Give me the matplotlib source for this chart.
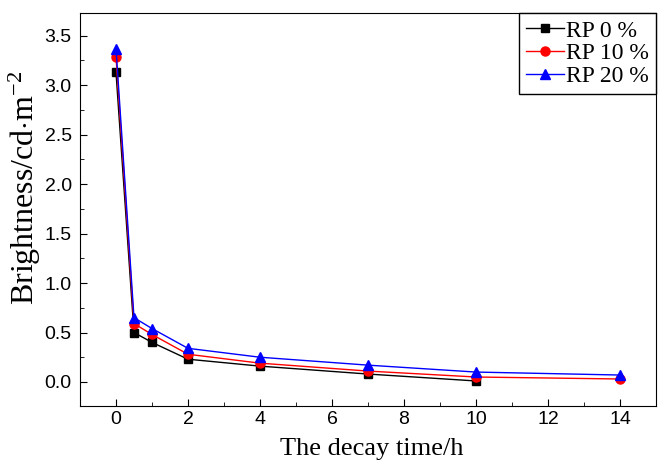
import matplotlib
matplotlib.use("Agg")
import matplotlib.pyplot as plt
from matplotlib.ticker import MultipleLocator

# decay time (h) and brightness (cd/m^2)
time_all = [0, 0.5, 1, 2, 4, 7, 10, 14]
rp0 = [3.13, 0.50, 0.40, 0.23, 0.16, 0.08, 0.01]
rp10 = [3.29, 0.59, 0.48, 0.28, 0.19, 0.11, 0.05, 0.03]
rp20 = [3.37, 0.65, 0.54, 0.34, 0.25, 0.17, 0.10, 0.07]

plt.rcParams['mathtext.fontset'] = 'custom'
plt.rcParams['mathtext.rm'] = 'Liberation Serif'
plt.rcParams['mathtext.it'] = 'Liberation Serif:italic'

W, H = 660, 461
fig = plt.figure(figsize=(W / 100, H / 100), dpi=100)
ax = fig.add_axes([80 / W, 1 - 405.7 / H, 576 / W, 392.7 / H])

ax.plot(time_all[:len(rp0)], rp0, color='black', marker='s', ms=5.5, lw=1, label='RP 0 %')
ax.plot(time_all, rp10, color='red', marker='o', ms=6.5, lw=1, label='RP 10 %')
ax.plot(time_all, rp20, color='blue', marker='^', ms=7, lw=1, label='RP 20 %')

ax.set_xlim(-1, 15)
ax.set_ylim(-0.24, 3.73)
ax.xaxis.set_major_locator(MultipleLocator(2))
ax.xaxis.set_minor_locator(MultipleLocator(1))
ax.yaxis.set_major_locator(MultipleLocator(0.5))
ax.yaxis.set_minor_locator(MultipleLocator(0.25))
ax.tick_params(which='both', direction='in', top=False, right=False)
ax.tick_params(which='major', length=5, labelsize=14)
ax.tick_params(which='minor', length=3)
ax.tick_params(axis='y', pad=6)
ax.tick_params(axis='x', pad=4)
for lab in ax.get_xticklabels() + ax.get_yticklabels():
    lab.set_family('Liberation Sans')

fig.text(372 / W, 1 - 455 / H, 'The decay time/h', family='Liberation Serif',
         fontsize=19, ha='center', va='baseline')
fig.text(25 / W, 1 - 188 / H, 'Brightness/cd$\\cdot$m$^{-2}$', family='Liberation Serif',
         fontsize=23, ha='center', va='center', rotation=90)

leg = ax.legend(loc='upper right', bbox_to_anchor=(1.0, 1.0), borderaxespad=0,
                prop={'family': 'Liberation Serif', 'size': 17}, fancybox=False,
                edgecolor='black', framealpha=1, handlelength=1.6, labelspacing=0.05,
                handletextpad=0.1, borderpad=0.3)
leg.get_frame().set_linewidth(1)

fig.savefig('out.png', dpi=100)
